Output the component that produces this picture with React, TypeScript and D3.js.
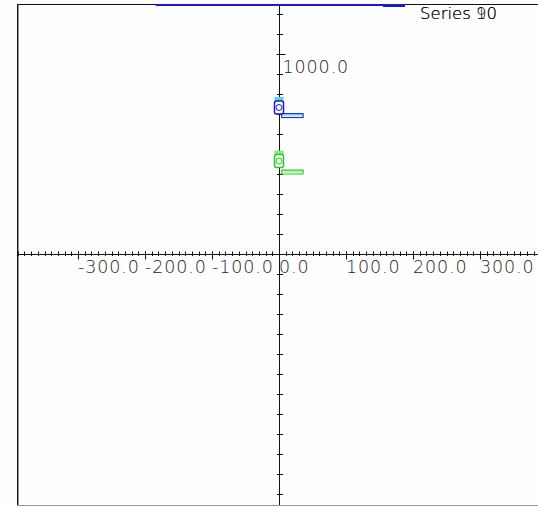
import React from "react";
import * as d3 from "d3";

// axis labels
const xMajorTicks = [-300, -200, -100, 0, 100, 200, 300];
const yMajorTicks = [1000];

// legend (two names drawn on top of each other, as in the original)
const seriesNames = ["Series 10", "Series 90"];

// per series: marker value, bar value
const seriesColors = ["#1a1ac8", "#22cc22"];
const seriesLight = ["#5fd0f0", "#7cf07c"];
const markerValues = [735, 467];
const barValues = [692, 410];
const barStart = [4, 4];
const barEnd = [36, 36];

// segment along the top edge
const topSegment = [-184, 157];
const topValue = 1250;

const W = 538;
const H = 507;
const plot = { left: 17, top: 4, right: 538, bottom: 505 };

const App: React.FC = () => {
  const x = d3.scaleLinear().domain([-300, 300]).range([78, 480]);
  const y = d3.scaleLinear().domain([0, 1000]).range([254, 54]);

  const x0 = Math.round(x(0)) + 0.5;
  const y0 = Math.round(y(0)) + 0.5;

  const xMinor = d3.range(-390, 391, 10).filter((v) => x(v) >= plot.left && x(v) <= plot.right);
  const yMinor = d3.range(-1300, 1301, 100).filter((v) => y(v) >= plot.top && y(v) <= plot.bottom);

  const font = {
    fontFamily: "'DejaVu Sans', sans-serif",
    fontSize: 17.5,
    fontWeight: 300,
    fill: "#1e1e1e",
    letterSpacing: 0.9,
  };

  return (
    <svg
      width={W}
      height={H}
      style={{ position: "absolute", left: 0, top: 0, background: "#fefefe" }}
    >
      <defs>
        <clipPath id="plotClip">
          <rect x={plot.left} y={plot.top} width={plot.right - plot.left} height={plot.bottom - plot.top} />
        </clipPath>
        {seriesColors.map((c, i) => (
          <linearGradient key={i} id={`barGrad${i}`} x1="0" y1="0" x2="0" y2="1">
            <stop offset="0" stopColor={seriesLight[i]} />
            <stop offset="1" stopColor="#ffffff" />
          </linearGradient>
        ))}
      </defs>

      {/* frame */}
      <line x1={plot.left + 0.5} x2={plot.left + 0.5} y1={plot.top} y2={plot.bottom + 1} stroke="#111" />
      <line x1={plot.left + 1.5} x2={plot.left + 1.5} y1={plot.top} y2={plot.bottom + 1} stroke="#999" />
      <line x1={plot.left} x2={plot.right} y1={plot.top + 0.5} y2={plot.top + 0.5} stroke="#111" />
      <line x1={plot.left} x2={plot.right} y1={plot.bottom + 0.5} y2={plot.bottom + 0.5} stroke="#999" />

      <g clipPath="url(#plotClip)">
        {/* axes */}
        <line x1={plot.left} x2={plot.right} y1={y0} y2={y0} stroke="#111" />
        <line x1={x0} x2={x0} y1={plot.top} y2={plot.bottom} stroke="#111" />

        {xMinor.map((v) => (
          <line key={`xm${v}`} x1={Math.round(x(v)) + 0.5} x2={Math.round(x(v)) + 0.5} y1={y0 - 3} y2={y0 + 1.5} stroke="#111" />
        ))}
        {xMajorTicks.map((v) => (
          <line key={`xM${v}`} x1={Math.round(x(v)) + 0.5} x2={Math.round(x(v)) + 0.5} y1={y0 - 3} y2={y0 + 5} stroke="#111" />
        ))}
        {yMinor.map((v) => (
          <line key={`ym${v}`} x1={x0 - 2.5} x2={x0 + 3.5} y1={Math.round(y(v)) + 0.5} y2={Math.round(y(v)) + 0.5} stroke="#111" />
        ))}
        {yMajorTicks.map((v) => (
          <line key={`yM${v}`} x1={x0 - 3} x2={x0 + 6} y1={Math.round(y(v)) + 0.5} y2={Math.round(y(v)) + 0.5} stroke="#111" />
        ))}

        {/* top segment */}
        <line
          x1={x(topSegment[0])}
          x2={x(topSegment[1])}
          y1={y(topValue) + 1}
          y2={y(topValue) + 1}
          stroke={seriesColors[0]}
          strokeWidth={2}
        />

        {/* series marks */}
        {markerValues.map((v, i) => {
          const cy = y(v);
          const by = y(barValues[i]);
          return (
            <g key={`s${i}`}>
              <rect
                x={x(barStart[i])}
                y={by - 2}
                width={x(barEnd[i]) - x(barStart[i])}
                height={4}
                fill={`url(#barGrad${i})`}
                stroke={seriesColors[i]}
                strokeWidth={1}
              />
              <rect x={x0 - 5} y={cy - 10} width={9} height={4} fill={seriesLight[i]} />
              <rect x={x0 - 5} y={cy - 6} width={9} height={13} rx={2} fill="#fff" stroke={seriesColors[i]} strokeWidth={1.5} />
              <circle cx={x0 - 0.5} cy={cy + 0.5} r={3} fill="#fff" stroke={seriesColors[i]} strokeWidth={1} />
            </g>
          );
        })}
      </g>

      {/* tick labels */}
      {xMajorTicks.map((v) => (
        <text key={`xl${v}`} x={x(v)} y={y0 + 18} {...font}>
          {v.toFixed(1)}
        </text>
      ))}
      {yMajorTicks.map((v) => (
        <text key={`yl${v}`} x={x0 + 3} y={y(v) + 19} {...font}>
          {v.toFixed(1)}
        </text>
      ))}

      {/* legend */}
      <rect x={383} y={plot.top} width={22} height={3} fill={seriesColors[0]} />
      {seriesNames.map((s) => (
        <text key={s} x={420} y={18.5} fontFamily="'DejaVu Sans', sans-serif" fontSize={16.5} fontWeight={300} fill="#111">
          {s}
        </text>
      ))}
    </svg>
  );
};

export default App;
